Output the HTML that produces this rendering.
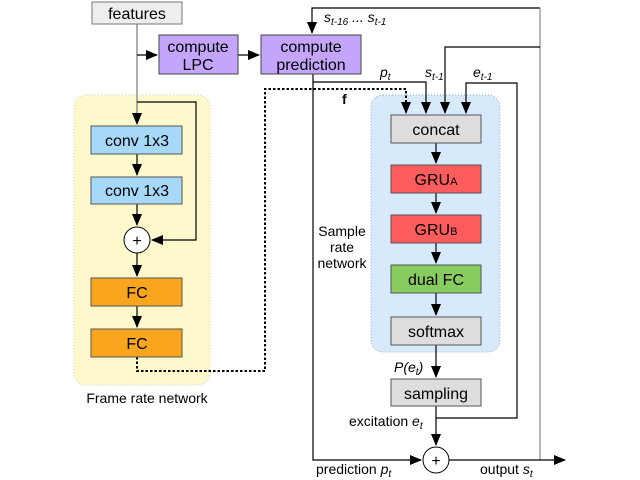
<!DOCTYPE html>
<html><head><meta charset="utf-8"><style>
html,body{margin:0;padding:0;background:#fff;}
svg{display:block;font-family:"Liberation Sans",sans-serif;}
</style></head><body>
<svg width="640" height="480" viewBox="0 0 640 480" xmlns="http://www.w3.org/2000/svg">
<defs>
<marker id="a" markerWidth="12" markerHeight="10" refX="11" refY="5" orient="auto" markerUnits="userSpaceOnUse"><path d="M0,0 L12,5 L0,10 z" fill="#000"/></marker>
</defs>
<rect x="74" y="95" width="136" height="290" rx="12" fill="#fef9cc" stroke="#ccc" stroke-dasharray="1,2"/>
<rect x="371" y="95" width="129" height="257" rx="12" fill="#d6eafb" stroke="#9ab" stroke-dasharray="1,2"/>
<g stroke="#000" stroke-width="1.2" fill="none">
<path d="M137,24 V124" stroke="#777" marker-end="url(#a)"/>
<path d="M137,55 H157" marker-end="url(#a)"/>
<path d="M238,55 H259" marker-end="url(#a)"/>
<path d="M137,102 H196 V240 H152" marker-end="url(#a)"/>
<path d="M137,154 V175" marker-end="url(#a)"/>
<path d="M137,204 V225" marker-end="url(#a)"/>
<path d="M137,253 V276" marker-end="url(#a)"/>
<path d="M137,306 V327" marker-end="url(#a)"/>
<path d="M137,357 V371 H265 V89 H406 V104" stroke-dasharray="2.5,2" stroke-width="2"/>
<path d="M406,104 V113" marker-end="url(#a)"/>
<path d="M540,8 H312 V33" marker-end="url(#a)"/>
<path d="M540,8 V460" stroke="#888"/>
<path d="M540,47 H445 V113" marker-end="url(#a)"/>
<path d="M313,74 V460 H421" marker-end="url(#a)"/>
<path d="M313,82 H426 V113" marker-end="url(#a)"/>
<path d="M436,418 H517 V83 H466 V113" marker-end="url(#a)"/>
<path d="M436,143 V163" marker-end="url(#a)"/>
<path d="M436,193 V213" marker-end="url(#a)"/>
<path d="M436,243 V263" marker-end="url(#a)"/>
<path d="M436,293 V315" marker-end="url(#a)"/>
<path d="M436,345 V377" marker-end="url(#a)"/>
<path d="M436,406 V445" marker-end="url(#a)"/>
<path d="M449,460 H565" marker-end="url(#a)"/>
</g>
<g stroke="#555" stroke-width="1">
<rect x="92" y="2" width="90" height="22" fill="#eee" stroke="#777"/>
<rect x="159" y="35" width="79" height="39" fill="#c4a5fc" stroke="#444"/>
<rect x="261" y="35" width="100" height="39" fill="#c4a5fc" stroke="#444"/>
<rect x="91" y="126" width="91" height="28" fill="#a6d8f7"/>
<rect x="91" y="177" width="91" height="27" fill="#a6d8f7"/>
<rect x="91" y="278" width="91" height="28" fill="#f9a61e"/>
<rect x="91" y="329" width="91" height="28" fill="#f9a61e"/>
<rect x="391" y="115" width="90" height="28" fill="#ddd"/>
<rect x="391" y="165" width="90" height="28" fill="#fd5c5c"/>
<rect x="391" y="215" width="90" height="28" fill="#fd5c5c"/>
<rect x="391" y="265" width="90" height="28" fill="#88cc5f"/>
<rect x="391" y="317" width="90" height="28" fill="#ddd"/>
<rect x="391" y="379" width="90" height="27" fill="#ddd"/>
<circle cx="137" cy="240" r="13" fill="#fff" stroke="#000"/>
<circle cx="436" cy="460" r="13" fill="#fff" stroke="#000"/>
</g>
<g font-size="16" text-anchor="middle" fill="#000">
<text x="137" y="19">features</text>
<text x="198" y="52">compute</text><text x="198" y="70">LPC</text>
<text x="311" y="52">compute</text><text x="311" y="70">prediction</text>
<text x="137" y="146">conv 1x3</text>
<text x="137" y="196">conv 1x3</text>
<text x="137" y="246" font-size="16">+</text>
<text x="137" y="298">FC</text>
<text x="137" y="349">FC</text>
<text x="147" y="403" font-size="14">Frame rate network</text>
<text x="436" y="135">concat</text>
<text x="436" y="185">GRU<tspan font-size="11">A</tspan></text>
<text x="436" y="235">GRU<tspan font-size="11">B</tspan></text>
<text x="436" y="285">dual FC</text>
<text x="436" y="337">softmax</text>
<text x="436" y="399">sampling</text>
<text x="436" y="466" font-size="16">+</text>
<text x="342" y="236" font-size="14">Sample</text>
<text x="342" y="252" font-size="14">rate</text>
<text x="342" y="268" font-size="14">network</text>
</g>
<g font-size="14" fill="#000">
<text x="324" y="22" font-style="italic">s<tspan font-size="10" dy="3">t-16</tspan><tspan dy="-3"> ... s</tspan><tspan font-size="10" dy="3">t-1</tspan></text>
<text x="380" y="77" font-style="italic">p<tspan font-size="10" dy="3">t</tspan></text>
<text x="425" y="77" font-style="italic">s<tspan font-size="10" dy="3">t-1</tspan></text>
<text x="473" y="77" font-style="italic">e<tspan font-size="10" dy="3">t-1</tspan></text>
<text x="342" y="104" font-weight="bold">f</text>
<text x="394" y="372" font-style="italic">P(e<tspan font-size="10" dy="3">t</tspan><tspan dy="-3">)</tspan></text>
<text x="349" y="426">excitation <tspan font-style="italic">e</tspan><tspan font-size="10" dy="3" font-style="italic">t</tspan></text>
<text x="316" y="474">prediction <tspan font-style="italic">p</tspan><tspan font-size="10" dy="3" font-style="italic">t</tspan></text>
<text x="480" y="474">output <tspan font-style="italic">s</tspan><tspan font-size="10" dy="3" font-style="italic">t</tspan></text>
</g>
</svg>
</body></html>
